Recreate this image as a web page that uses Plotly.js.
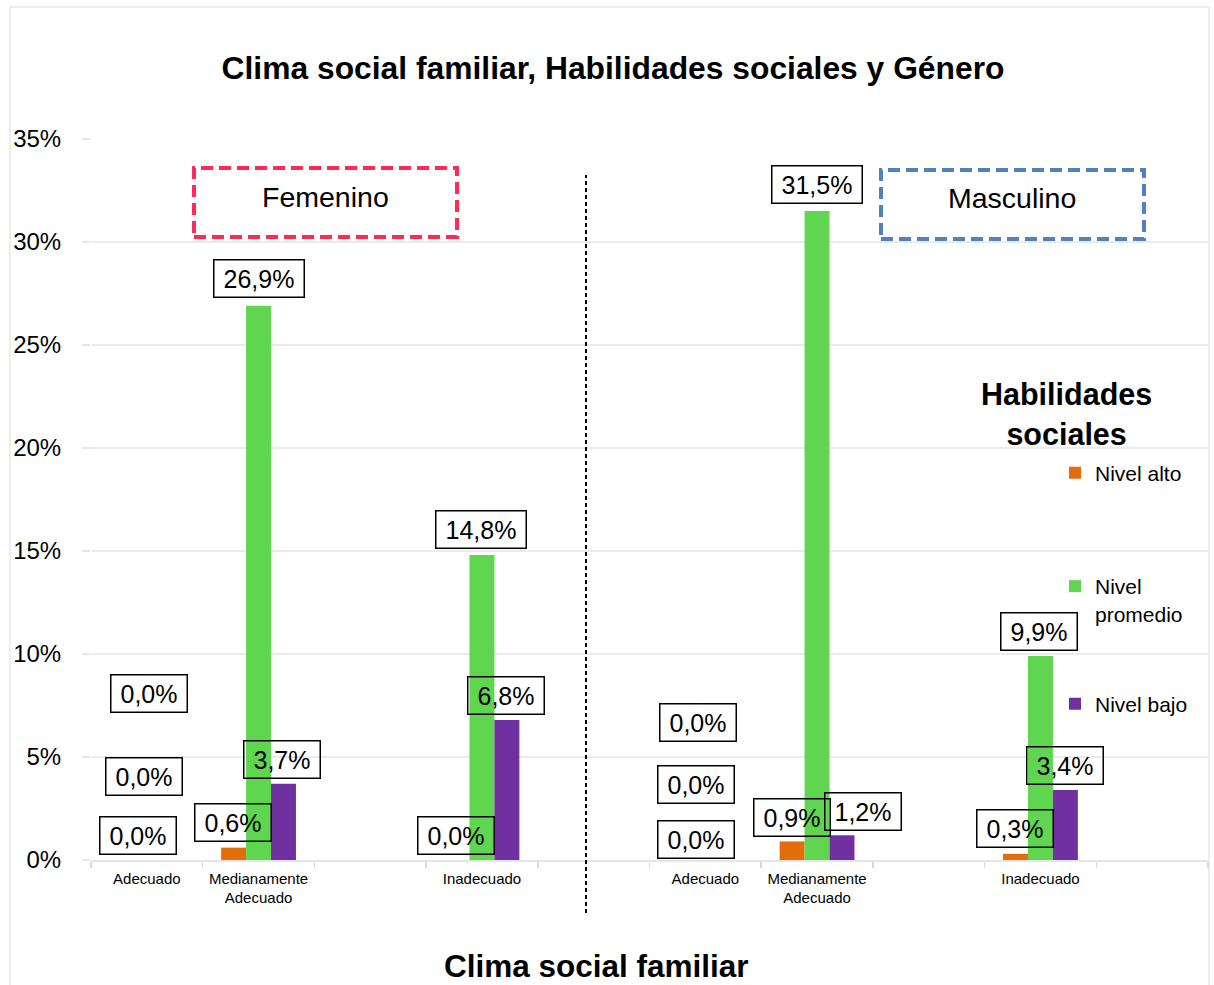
<!DOCTYPE html>
<html>
<head>
<meta charset="utf-8">
<script src="https://cdn.plot.ly/plotly-3.0.1.min.js"></script>
<style>
  html, body { margin: 0; padding: 0; background: #ffffff; }
  #chart { width: 1214px; height: 985px; }
</style>
</head>
<body>
<div id="chart"></div>
<script>
// ---------- DATA ----------
const slots = ["F-Adecuado", "F-Medianamente", "F-vacío", "F-Inadecuado", "separador",
               "M-Adecuado", "M-Medianamente", "M-vacío", "M-Inadecuado", "M-final"];
const tickLabels = ["Adecuado", "Medianamente<br>Adecuado", "", "Inadecuado", "",
                    "Adecuado", "Medianamente<br>Adecuado", "", "Inadecuado", ""];
const seriesNames = ["Nivel alto", "Nivel<br>promedio", "Nivel bajo"];
const nivelAlto     = [0.0, 0.6,  null, 0.0,  null, 0.0, 0.9,  null, 0.3, null];
const nivelPromedio = [0.0, 26.9, null, 14.8, null, 0.0, 31.5, null, 9.9, null];
const nivelBajo     = [0.0, 3.7,  null, 6.8,  null, 0.0, 1.2,  null, 3.4, null];
const yTicks = [0, 5, 10, 15, 20, 25, 30, 35];
const yTickLabels = ["0%", "5%", "10%", "15%", "20%", "25%", "30%", "35%"];
const chartTitle = "Clima social familiar, Habilidades sociales y Género";
const xTitle = "Clima social familiar";
const legendTitle = "Habilidades<br>sociales";
const genderLabels = ["Femenino", "Masculino"];

// ---------- STYLE ----------
const colors = ["#E46C0A", "#5FD550", "#7030A0"];
const W = 1214, H = 985;
const M = {l: 91, r: 6, t: 139, b: 125};
const PW = W - M.l - M.r, PH = H - M.t - M.b;
const px2x = p => (p - M.l) / PW;
const px2y = p => 1 - (p - M.t) / PH;
const FONT = "Liberation Sans, Arial, Helvetica, sans-serif";

// label placement offsets (px) relative to each bar top: [dx, dy]
const seriesShift = [-25, 0, 25];
const labelOffsets = [
  [[16, -25], [-1, -25], null, [-1, -25], null, [16, -21], [0, -24], null, [0, -25], null],
  [[-3, -84], [0, -27], null, [-1, -26], null, [-9, -76], [0, -27], null, [-1, -25], null],
  [[-23, -167], [-2, -24], null, [-1, -24], null, [-32, -138], [21, -24], null, [0, -24], null]
];
const legendIds = ["legend", "legend2", "legend3"];
const legendCenters = [473, 600, 704];

const allSeries = [nivelAlto, nivelPromedio, nivelBajo];

const traces = allSeries.map((vals, i) => ({
  type: "bar",
  name: seriesNames[i],
  x: slots,
  y: vals,
  marker: {color: colors[i]},
  legend: legendIds[i],
  hoverinfo: "skip"
}));

const fmt = v => v.toFixed(1).replace(".", ",") + "%";

const annotations = [];
allSeries.forEach((vals, i) => {
  vals.forEach((v, j) => {
    if (v === null) return;
    const off = labelOffsets[i][j];
    const txt = fmt(v);
    annotations.push({
      x: slots[j], y: v, xref: "x", yref: "y",
      xshift: seriesShift[i] + off[0], yshift: -off[1],
      text: txt, showarrow: false,
      xanchor: "center", yanchor: "middle",
      font: {family: FONT, size: 25, color: "#000000"},
      bordercolor: "#000000", borderwidth: 1.5, borderpad: 3,
      width: txt.length > 4 ? 83 : 69, height: 30,
      bgcolor: "rgba(0,0,0,0)"
    });
  });
});

// gender labels
annotations.push({
  xref: "paper", yref: "paper", x: px2x(325), y: px2y(197),
  text: genderLabels[0], showarrow: false, xanchor: "center", yanchor: "middle",
  font: {family: FONT, size: 28.5, color: "#000000"}
});
annotations.push({
  xref: "paper", yref: "paper", x: px2x(1012), y: px2y(198),
  text: genderLabels[1], showarrow: false, xanchor: "center", yanchor: "middle",
  font: {family: FONT, size: 28.5, color: "#000000"}
});
// x axis title
annotations.push({
  xref: "paper", yref: "paper", x: px2x(596), y: px2y(966),
  text: "<b>" + xTitle + "</b>", showarrow: false, xanchor: "center", yanchor: "middle",
  font: {family: FONT, size: 31.5, color: "#000000"}
});
// legend title
annotations.push({
  xref: "paper", yref: "paper", x: px2x(1066), y: px2y(414),
  text: "<b>" + legendTitle + "</b>", showarrow: false, xanchor: "center", yanchor: "middle",
  font: {family: FONT, size: 30.5, color: "#000000"}
});

const shapes = [
  // outer chart border
  {type: "rect", xref: "paper", yref: "paper", x0: px2x(10), x1: px2x(1209), y0: px2y(1010), y1: px2y(7),
   line: {color: "#EEEEEE", width: 2}, fillcolor: "rgba(0,0,0,0)", layer: "below"},
  // Femenino box
  {type: "rect", xref: "paper", yref: "paper", x0: px2x(194), x1: px2x(457), y0: px2y(237), y1: px2y(168),
   line: {color: "#FF2A58", width: 4, dash: "12px,6px"}},
  // Masculino box
  {type: "rect", xref: "paper", yref: "paper", x0: px2x(881), x1: px2x(1144), y0: px2y(239), y1: px2y(170),
   line: {color: "#4F81BD", width: 4, dash: "12px,6px"}},
  // divider
  {type: "line", xref: "paper", yref: "paper", x0: px2x(586), x1: px2x(586), y0: px2y(913), y1: px2y(175),
   line: {color: "#000000", width: 2, dash: "4px,3px"}}
];

const legendBase = {
  x: px2x(1055), xanchor: "left",
  yanchor: "middle",
  bgcolor: "rgba(0,0,0,0)",
  font: {family: FONT, size: 21, color: "#000000"},
  itemwidth: 30,
  valign: "top"
};

const layout = {
  width: W, height: H,
  margin: M,
  paper_bgcolor: "#ffffff",
  plot_bgcolor: "#ffffff",
  font: {family: FONT, color: "#000000"},
  title: {
    text: "<b>" + chartTitle + "</b>",
    font: {family: FONT, size: 31.8, color: "#000000"},
    x: 613 / W, xref: "container", xanchor: "center",
    y: 1 - 68 / H, yref: "container", yanchor: "middle"
  },
  barmode: "group",
  bargap: 0.33,
  bargroupgap: 0,
  xaxis: {
    type: "category",
    categoryorder: "array", categoryarray: slots,
    tickmode: "array", tickvals: slots, ticktext: tickLabels,
    tickson: "boundaries",
    ticks: "outside", ticklen: 6, tickcolor: "#D9D9D9", tickwidth: 1.5,
    ticklabelstandoff: 4,
    showline: true, linecolor: "#E6E6E6", linewidth: 1.5,
    showgrid: false, zeroline: false,
    tickfont: {family: FONT, size: 15, color: "#000000"},
    range: [-0.5, 9.5], fixedrange: true
  },
  yaxis: {
    range: [0, 35],
    tickmode: "array", tickvals: yTicks, ticktext: yTickLabels,
    ticks: "outside", ticklen: 8, tickcolor: "#E6E6E6", tickwidth: 1.5,
    ticklabelstandoff: 16,
    showgrid: true, gridcolor: "#EBEBEB", gridwidth: 1.5,
    zeroline: false, showline: false,
    tickfont: {family: FONT, size: 24, color: "#000000"},
    fixedrange: true
  },
  showlegend: true,
  annotations: annotations,
  shapes: shapes
};
legendIds.forEach((id, i) => {
  layout[id] = Object.assign({}, legendBase, {y: px2y(legendCenters[i])});
});

Plotly.newPlot("chart", traces, layout, {displayModeBar: false, staticPlot: true});
</script>
</body>
</html>
